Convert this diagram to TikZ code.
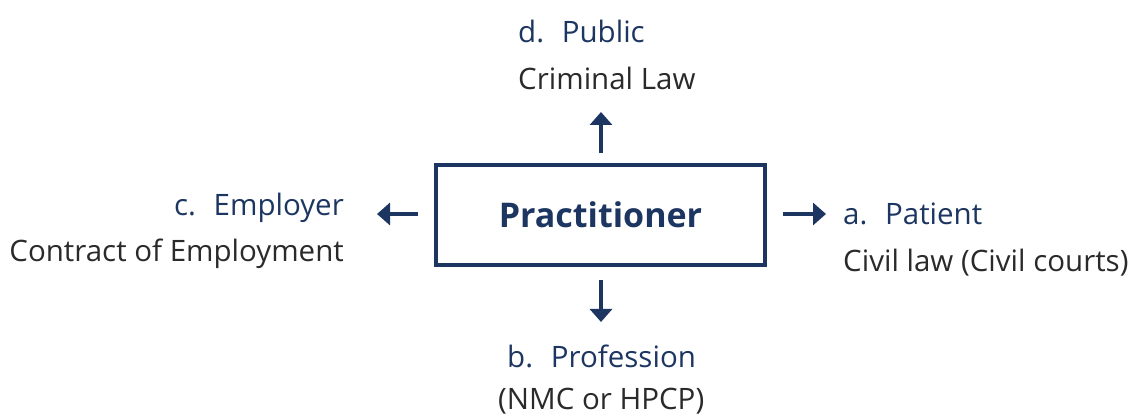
\documentclass[tikz,border=0pt]{standalone}
\usepackage{fontspec}
\setmainfont{Open Sans}
\usetikzlibrary{arrows.meta}
\definecolor{navy}{HTML}{1D3661}
\definecolor{ink}{HTML}{2A2A2A}
\begin{document}
\begin{tikzpicture}[x=1pt,y=-1pt,
  head/.style={font=\fontsize{29.5}{33}\selectfont, text=navy, inner sep=0pt},
  sub/.style={font=\fontsize{29.5}{33}\selectfont, text=ink, inner sep=0pt},
  link/.style={draw=navy, line width=4pt, -{Triangle[width=22pt,length=13pt]}}]
\useasboundingbox (0,0) rectangle (1133,419);
% central box
\node[draw=navy, line width=4.5pt, minimum width=329pt, minimum height=100pt,
      text=navy, font=\fontsize{34}{40}\selectfont\bfseries] (prac) at (600.5,215) {Practitioner};
% labels
\node[head, anchor=base west] (d) at (518,43) {d.\hspace{0.6em}Public};
\node[sub, anchor=base west] (dl) at (518,90) {Criminal Law};
\node[head, anchor=base west] (b) at (507,368) {b.\hspace{0.6em}Profession};
\node[sub, anchor=base west] (bl) at (498,410) {(NMC or HPCP)};
\node[head, anchor=base east] (c) at (344,216) {c.\hspace{0.6em}Employer};
\node[sub, anchor=base east] (cl) at (344,262) {Contract of Employment};
\node[head, anchor=base west] (a) at (843,225) {a.\hspace{0.6em}Patient};
\node[sub, anchor=base west] (al) at (843,272) {Civil law (Civil courts)};
% arrow ends
\coordinate (upT) at (601,153);
\coordinate (upH) at (601,112);
\coordinate (dnT) at (601,280);
\coordinate (dnH) at (601,322);
\coordinate (lfT) at (418,214);
\coordinate (lfH) at (377,214);
\coordinate (rtT) at (783,214);
\coordinate (rtH) at (826,214);
\draw[link] (upT) -- (upH);
\draw[link] (dnT) -- (dnH);
\draw[link] (lfT) -- (lfH);
\draw[link] (rtT) -- (rtH);
\end{tikzpicture}
\end{document}
